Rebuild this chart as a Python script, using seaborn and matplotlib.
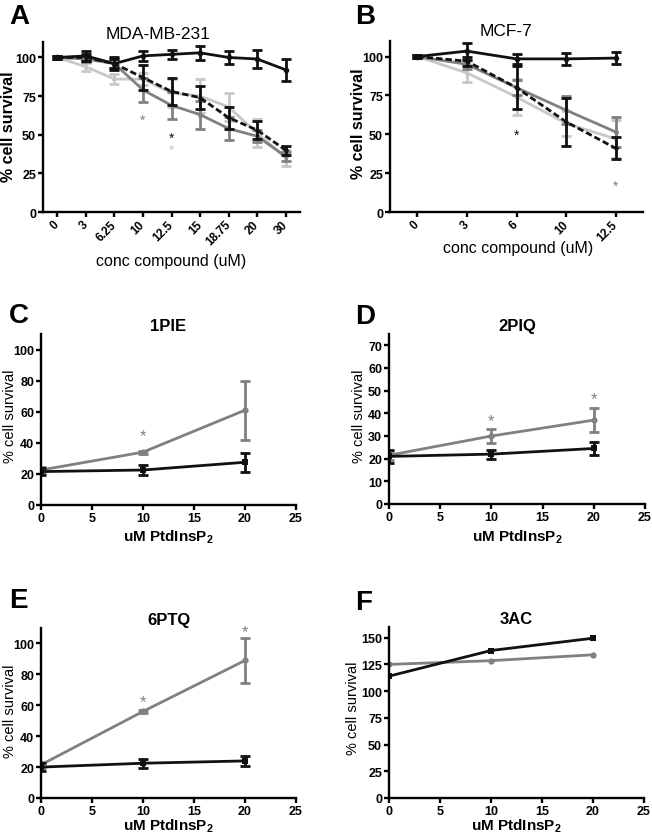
import numpy as np
import pandas as pd
import seaborn as sns
import matplotlib.pyplot as plt
from matplotlib.transforms import offset_copy

# ---- panel A : MDA-MB-231 ----
conc_a = ["0", "3", "6.25", "10", "12.5", "15", "18.75", "20", "30"]
a_black = [100, 101, 96, 101, 102, 103, 100, 99, 92]
a_black_err = [1, 3, 4, 3.5, 3, 4.5, 4, 6, 7]
a_dash = [100, 100, 96, 87, 78, 74, 61, 53, 40]
a_dash_err = [1, 2, 3, 8, 8.5, 7.5, 7, 6, 3]
a_gray = [100, 99, 96, 79, 69, 63, 54, 49, 36]
a_gray_err = [1, 2, 3, 8, 8.5, 9, 7.5, 4, 3]
a_light = [100, 94, 86, 86, 77, 75, 68, 51, 35]
a_light_err = [1, 2.5, 3, 4, 9, 11, 9, 9, 5]
a_star_x = ["10", "12.5", "12.5"]
a_star_y = [62, 50, 42.5]

# ---- panel B : MCF-7 ----
conc_b = ["0", "3", "6", "10", "12.5"]
b_black = [100, 103.5, 98.5, 98.5, 99]
b_black_err = [1, 5.5, 3, 4, 4]
b_dash = [100, 97, 80, 58, 41]
b_dash_err = [1, 3, 14, 15.5, 7]
b_gray = [100, 95, 80, 65.5, 51.5]
b_gray_err = [1, 3, 5, 9, 9.5]
b_light = [100, 89.5, 74, 57, 47]
b_light_err = [1, 6, 11.5, 8, 12]
b_star_x = ["6", "12.5"]
b_star_y = [52, 19]

# ---- panels C-F : PtdInsP2 rescue ----
dose = [0, 10, 20]
c_gray = [22.5, 34, 61]
c_gray_err = [2, 1, 19]
c_black = [21.5, 22.5, 27.5]
c_black_err = [2.5, 3.5, 6]
c_star_x = [10]
c_star_y = [47]

d_gray = [21.5, 30, 37]
d_gray_err = [2, 3.3, 5.4]
d_black = [21, 22, 24.5]
d_black_err = [3, 2, 3]
d_star_x = [10, 20]
d_star_y = [38.4, 48]

e_gray = [21.5, 56, 89]
e_gray_err = [2, 1, 14.5]
e_black = [20, 22.5, 24]
e_black_err = [2.5, 3, 3]
e_star_x = [10, 20]
e_star_y = [64.5, 110]

f_gray = [125, 128.5, 134]
f_black = [114, 138, 149.5]

BLACK = "#111111"
GRAY = "#808080"
LIGHT = "#c8c8c8"

sns.set_style("ticks")
plt.rcParams["font.family"] = ["Liberation Sans", "DejaVu Sans"]
plt.rcParams["mathtext.fontset"] = "custom"
plt.rcParams["mathtext.rm"] = "Liberation Sans"
plt.rcParams["mathtext.bf"] = "Liberation Sans:bold"
plt.rcParams["axes.linewidth"] = 1.7
for key in ["text.color", "axes.labelcolor", "xtick.color", "ytick.color", "axes.edgecolor"]:
    plt.rcParams[key] = "black"

fig = plt.figure(figsize=(6.52, 8.37), dpi=100)
W, H = 652, 837


def box(l, t, r, b):
    return [l / W, 1 - b / H, (r - l) / W, (b - t) / H]


axA = fig.add_axes(box(43, 43, 300, 213))
axB = fig.add_axes(box(390, 42, 643, 213))
axC = fig.add_axes(box(41, 335, 296, 506))
axD = fig.add_axes(box(389, 335, 645, 505))
axE = fig.add_axes(box(41, 629, 296, 799))
axF = fig.add_axes(box(389, 628, 644, 799))


def draw(ax, x, y, err, color, ls="-", marker="o", ms=4):
    d = pd.DataFrame({"x": x, "y": y})
    if err is not None:
        ax.errorbar(x, y, yerr=err, fmt="none", ecolor=color, elinewidth=2,
                    capsize=3.5, capthick=2, zorder=2)
    sns.lineplot(data=d, x="x", y="y", ax=ax, color=color, linestyle=ls,
                 marker=marker, markersize=ms, markeredgewidth=0, lw=2,
                 errorbar=None, sort=False, zorder=2)


def stars(ax, xs, ys, colors, size):
    tr = offset_copy(ax.transData, fig=fig, y=-2.5, units="points")
    for x, y, c in zip(xs, ys, colors):
        ax.text(x, y, "*", color=c, fontsize=size, ha="center", va="center",
                transform=tr, clip_on=False)


dashed = (0, (2.3, 1.1))

# A
pos_a = np.arange(len(conc_a))
draw(axA, pos_a, a_light, a_light_err, LIGHT, marker="s", ms=3)
draw(axA, pos_a, a_gray, a_gray_err, GRAY, marker="o", ms=3.5)
draw(axA, pos_a, a_dash, a_dash_err, BLACK, ls=dashed, marker="D", ms=3)
draw(axA, pos_a, a_black, a_black_err, BLACK, marker="o", ms=4)
stars(axA, [conc_a.index(s) for s in a_star_x], a_star_y, [GRAY, BLACK, LIGHT], 10)
axA.set_xlim(-0.5, len(conc_a) - 0.5)
axA.set_ylim(0, 110)
axA.set_yticks([0, 25, 50, 75, 100])
axA.set_xticks(pos_a, conc_a, rotation=45, ha="right", va="center",
               rotation_mode="anchor", fontweight="bold", fontsize=8.5)

# B
pos_b = np.arange(len(conc_b))
draw(axB, pos_b, b_light, b_light_err, LIGHT, marker="s", ms=3)
draw(axB, pos_b, b_gray, b_gray_err, GRAY, marker="o", ms=3.5)
draw(axB, pos_b, b_dash, b_dash_err, BLACK, ls=dashed, marker="D", ms=3)
draw(axB, pos_b, b_black, b_black_err, BLACK, marker="o", ms=4)
stars(axB, [conc_b.index(s) for s in b_star_x], b_star_y, [BLACK, GRAY], 10)
axB.set_xlim(-0.55, len(conc_b) - 0.45)
axB.set_ylim(0, 110)
axB.set_yticks([0, 25, 50, 75, 100])
axB.set_xticks(pos_b, conc_b, rotation=45, ha="right", va="center",
               rotation_mode="anchor", fontweight="bold", fontsize=8.5)

for ax, title, tx, pad in [(axA, "MDA-MB-231", 0.447, 3), (axB, "MCF-7", 0.458, 4.3)]:
    ax.set_title(title, fontsize=12.5, x=tx, pad=pad)
    ax.set_ylabel("% cell survival", fontsize=11.5, fontweight="bold")
    ax.set_xlabel("conc compound (uM)", fontsize=11.5)
axA.yaxis.set_label_coords(-0.105, 0.51)
axB.yaxis.set_label_coords(-0.095, 0.52)
axA.xaxis.set_label_coords(0.5, -0.24)
axB.xaxis.set_label_coords(0.506, -0.165)

# C - F
panels = [
    (axC, "1PIE", c_gray, c_gray_err, c_black, c_black_err, c_star_x, c_star_y,
     (0, 110), [0, 20, 40, 60, 80, 100]),
    (axD, "2PIQ", d_gray, d_gray_err, d_black, d_black_err, d_star_x, d_star_y,
     (0, 75), [0, 10, 20, 30, 40, 50, 60, 70]),
    (axE, "6PTQ", e_gray, e_gray_err, e_black, e_black_err, e_star_x, e_star_y,
     (0, 110), [0, 20, 40, 60, 80, 100]),
    (axF, "3AC", f_gray, None, f_black, None, [], [],
     (0, 160), [0, 25, 50, 75, 100, 125, 150]),
]
for ax, title, g, ge, k, ke, sx, sy, ylim, yt in panels:
    draw(ax, dose, g, ge, GRAY, marker="o", ms=4.5)
    draw(ax, dose, k, ke, BLACK, marker="s", ms=5)
    stars(ax, sx, sy, [GRAY] * len(sx), 12)
    ax.set_xlim(0, 25)
    ax.set_ylim(*ylim)
    ax.set_xticks([0, 5, 10, 15, 20, 25])
    ax.set_yticks(yt)
    ax.set_title(title, fontsize=12, fontweight="bold", pad=3)
    ax.set_ylabel("% cell survival", fontsize=10.5)
    ax.set_xlabel(r"uM PtdInsP$_\mathbf{2}$", fontsize=11, fontweight="bold")

axC.yaxis.set_label_coords(-0.094, 0.523)
axD.yaxis.set_label_coords(-0.088, 0.52)
axE.yaxis.set_label_coords(-0.094, 0.515)
axF.yaxis.set_label_coords(-0.112, 0.53)
axC.xaxis.set_label_coords(0.5, -0.13)
axD.xaxis.set_label_coords(0.5, -0.135)
axE.xaxis.set_label_coords(0.5, -0.105)
axF.xaxis.set_label_coords(0.5, -0.105)

for ax in [axA, axB, axC, axD, axE, axF]:
    sns.despine(ax=ax)
    ax.tick_params(width=1.7, length=3.5, pad=1.5, labelsize=9)
    plt.setp(ax.get_yticklabels(), fontweight="bold")
    if ax not in (axA, axB):
        plt.setp(ax.get_xticklabels(), fontweight="bold")
axA.tick_params(axis="x", pad=4, labelsize=8.5)
axB.tick_params(axis="x", pad=4, labelsize=8.5)

for letter, x, y in [("A", 9, 24), ("B", 355, 24), ("C", 9, 323),
                     ("D", 355, 324), ("E", 9, 608), ("F", 355, 610)]:
    fig.text(x / W, 1 - y / H, letter, fontsize=20, fontweight="bold",
             ha="left", va="baseline")

fig.savefig("out.png", dpi=100)
